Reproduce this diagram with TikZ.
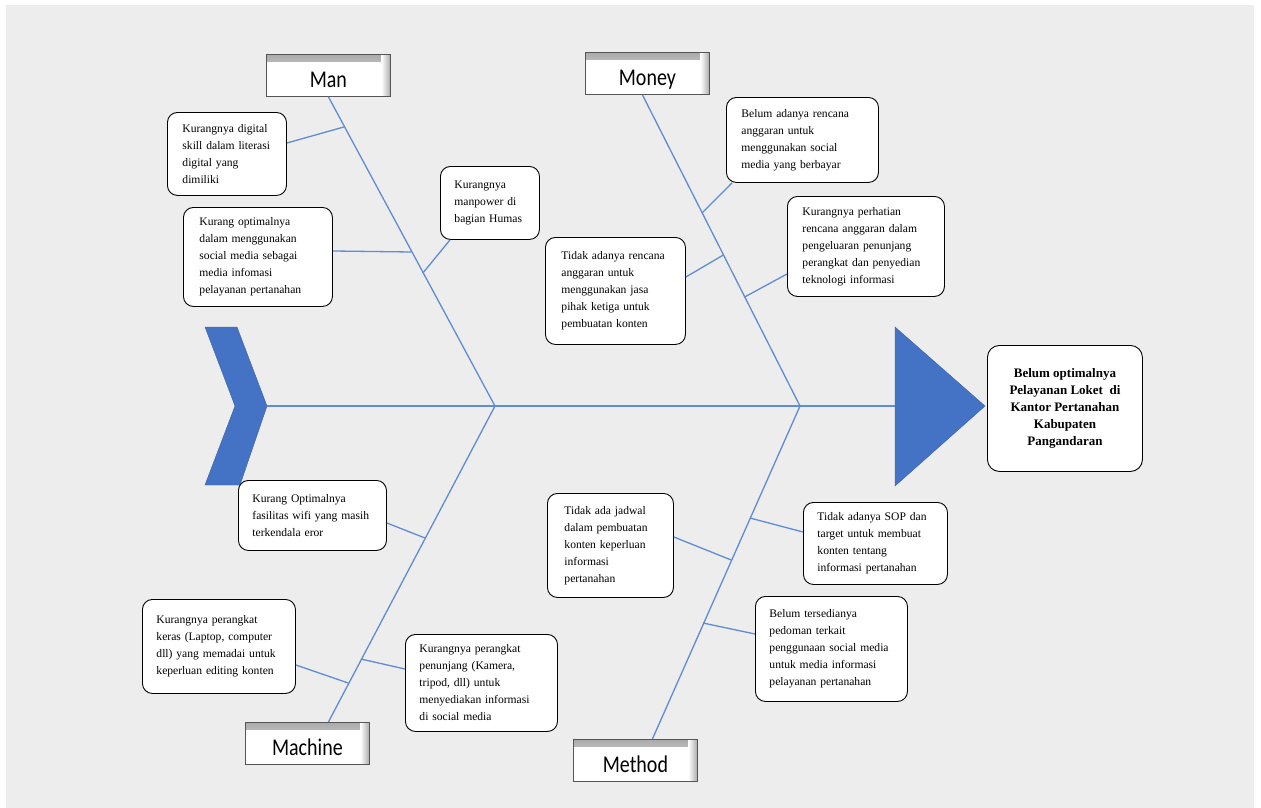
\documentclass[tikz,border=0pt]{standalone}
\usepackage{fontspec}
\usepackage{graphicx}
\setmainfont{Liberation Serif}
\newfontfamily\labelfont{Carlito}
\usetikzlibrary{calc}
\definecolor{bggray}{RGB}{237,237,237}
\definecolor{bonecol}{RGB}{95,140,212}
\definecolor{headblue}{RGB}{68,114,196}
\definecolor{edgegray}{RGB}{85,85,85}
\definecolor{shadegray}{RGB}{170,170,170}
\newcommand\tallcat[1]{\scalebox{1}[1.2]{#1}}
\begin{document}
\begin{tikzpicture}[x=1pt,y=-1pt,
  cause/.style={draw=black, line width=0.9pt, rounded corners=10pt, fill=white,
    font=\fontsize{11.6}{17}\selectfont, align=left, inner xsep=#1, inner ysep=0pt,
    anchor=north west},
  cause/.default=15pt,
  effectbox/.style={draw=black, line width=0.9pt, rounded corners=12pt, fill=white,
    font=\fontsize{13}{17}\selectfont\bfseries, align=center, inner sep=0pt,
    minimum width=155pt, minimum height=126pt, anchor=north west},
  catbox/.style={draw=edgegray, line width=0.8pt, fill=white, anchor=north west,
    minimum width=124pt, minimum height=42pt, inner sep=0pt,
    text height=24pt, text depth=0pt,
    font=\labelfont\fontsize{20}{24}\selectfont,
    path picture={
      \shade[top color=shadegray, bottom color=white]
        (path picture bounding box.north west) rectangle ([yshift=-7pt]path picture bounding box.north east);
      \shade[left color=white, right color=shadegray]
        ([xshift=-9pt]path picture bounding box.north east) rectangle (path picture bounding box.south east);
    }},
  bone/.style={draw=bonecol, line width=1.3pt},
  headshape/.style={fill=headblue, draw=headblue!85!black, line width=0.4pt}
]
\useasboundingbox (0,0) rectangle (1261,808);
\fill[bggray] (6,5) rectangle (1254,808);

% tail chevron and head triangle
\draw[headshape] (205,327) -- (237,327) -- (267,406) -- (240,485) -- (205,485) -- (235,406) -- cycle;
\coordinate (tail) at (267,406);
\draw[headshape] (895,327) -- (985,406) -- (895,486) -- cycle;
\coordinate (head) at (895,406);
\coordinate (hubA) at (495,406);
\coordinate (hubB) at (800,406);

% spine
\draw[bone] (tail) -- (head);

% effect
\node[effectbox] (effect) at (987,345) {Belum optimalnya\\Pelayanan Loket\ \ di\\Kantor Pertanahan\\Kabupaten\\Pangandaran};

% category boxes
\node[catbox] (man) at (266,54) {\tallcat{Man}};
\node[catbox] (money) at (585,52) {\tallcat{Money}};
\node[catbox] (machine) at (245,722) {\tallcat{Machine}};
\node[catbox] (method) at (573,739) {\tallcat{Method}};

% main bones
\draw[bone] (man.south) -- (hubA);
\draw[bone] ([xshift=-5pt]money.south) -- (hubB);
\draw[bone] ([xshift=21pt]machine.north) -- (hubA);
\draw[bone] ([xshift=17pt]method.north) -- (hubB);

% points on bones
\coordinate (pm1) at (343.8,127);
\coordinate (pm2) at (411.5,252);
\coordinate (pm3) at (422.9,273);
\coordinate (po1) at (702,213);
\coordinate (po2) at (744.6,297);
\coordinate (po3) at (723.3,255);
\coordinate (pc1) at (425,538);
\coordinate (pc2) at (348.2,683);
\coordinate (pc3) at (360.9,659);
\coordinate (pt1) at (731.2,560);
\coordinate (pt2) at (749.9,518);
\coordinate (pt3) at (703,623);

% Man causes
\node[cause, text width=89pt, minimum height=83pt] (c1) at (167,112)
  {Kurangnya digital\\skill dalam literasi\\digital yang\\dimiliki};
\node[cause=16pt, text width=117pt, minimum height=99pt] (c2) at (183,207)
  {Kurang optimalnya\\dalam menggunakan\\social media sebagai\\media infomasi\\pelayanan pertanahan};
\node[cause=14pt, text width=71pt, minimum height=73pt] (c3) at (440,166)
  {Kurangnya\\manpower di\\bagian Humas};

% Money causes
\node[cause, text width=122pt, minimum height=85pt] (c4) at (726,97)
  {Belum adanya rencana\\anggaran untuk\\menggunakan social\\media yang berbayar};
\node[cause, text width=127pt, minimum height=100pt] (c5) at (787,196)
  {Kurangnya perhatian\\rencana anggaran dalam\\pengeluaran penunjang\\perangkat dan penyedian\\teknologi informasi};
\node[cause=16pt, text width=108pt, minimum height=107pt] (c6) at (545,237)
  {Tidak adanya rencana\\anggaran untuk\\menggunakan jasa\\pihak ketiga untuk\\pembuatan konten};

% Machine causes
\node[cause=14pt, text width=120pt, minimum height=70pt] (c7) at (238,480)
  {Kurang Optimalnya\\fasilitas wifi yang masih\\terkendala eror};
\node[cause=14pt, text width=125pt, minimum height=94pt] (c8) at (142,599)
  {Kurangnya perangkat\\keras (Laptop, computer\\dll) yang memadai untuk\\keperluan editing konten\\[6pt]};
\node[cause=14pt, text width=124pt, minimum height=97pt] (c9) at (405,634)
  {Kurangnya perangkat\\penunjang (Kamera,\\tripod, dll) untuk\\menyediakan informasi\\di social media};

% Method causes
\node[cause=17pt, text width=92pt, minimum height=104pt] (c10) at (547,493)
  {Tidak ada jadwal\\dalam pembuatan\\konten keperluan\\informasi\\pertanahan};
\node[cause=14pt, text width=116pt, minimum height=82pt] (c11) at (803,502)
  {Tidak adanya SOP dan\\target untuk membuat\\konten tentang\\informasi pertanahan};
\node[cause=14pt, text width=124pt, minimum height=105pt] (c12) at (755,596)
  {Belum tersedianya\\pedoman terkait\\penggunaan social media\\untuk media informasi\\pelayanan pertanahan};

% connectors
\draw[bone] ([yshift=-31pt]c1.north east) -- (pm1);
\draw[bone] ([yshift=-44pt]c2.north east) -- (pm2);
\draw[bone] ([xshift=10pt]c3.south west) -- (pm3);
\draw[bone] ([xshift=6pt]c4.south west) -- (po1);
\draw[bone] ([yshift=-78pt]c5.north west) -- (po2);
\draw[bone] ([yshift=-40pt]c6.north east) -- (po3);
\draw[bone] ([yshift=-43pt]c7.north east) -- (pc1);
\draw[bone] ([yshift=-66pt]c8.north east) -- (pc2);
\draw[bone] ([yshift=-35pt]c9.north west) -- (pc3);
\draw[bone] ([yshift=-44pt]c10.north east) -- (pt1);
\draw[bone] ([yshift=-30pt]c11.north west) -- (pt2);
\draw[bone] ([yshift=-38pt]c12.north west) -- (pt3);
\end{tikzpicture}
\end{document}
